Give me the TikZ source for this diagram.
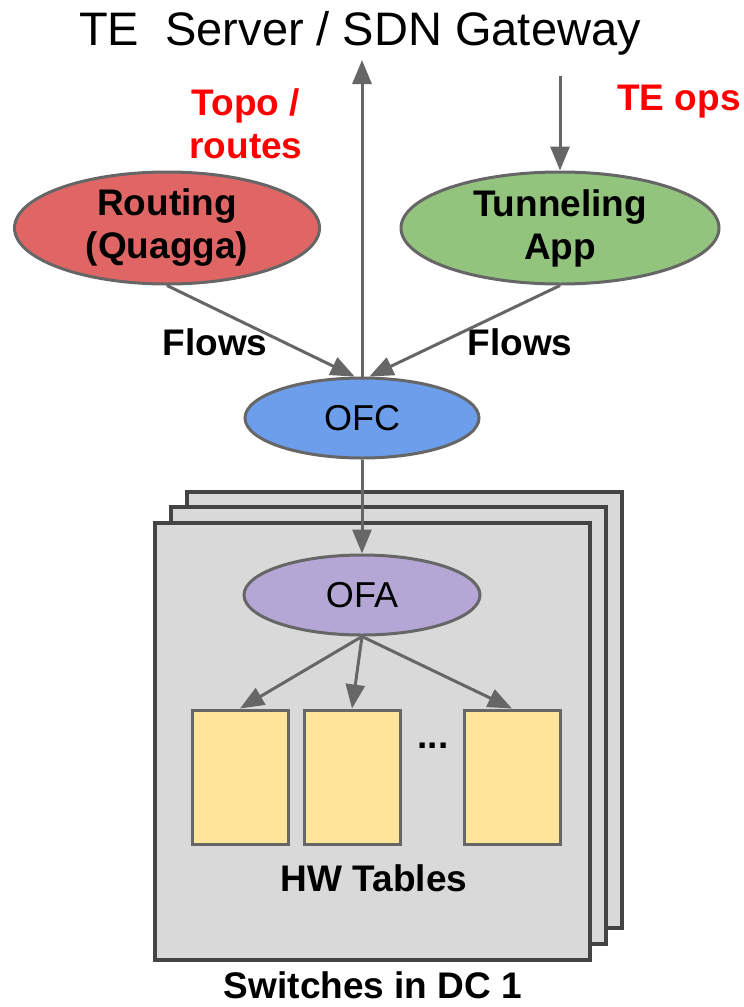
\documentclass[tikz,border=0pt]{standalone}
\usepackage{fontspec}
\setmainfont{Liberation Sans}
\usetikzlibrary{shapes.geometric,arrows.meta}

\definecolor{edgegray}{HTML}{666666}
\definecolor{boxgray}{HTML}{444444}
\definecolor{boxfill}{HTML}{D9D9D9}
\definecolor{routefill}{HTML}{E06666}
\definecolor{tunnelfill}{HTML}{93C47D}
\definecolor{ofcfill}{HTML}{6D9EEB}
\definecolor{ofafill}{HTML}{B4A7D6}
\definecolor{tablefill}{HTML}{FFE599}
\definecolor{labelred}{HTML}{FF0000}

\tikzset{
  bigtext/.style={font=\fontsize{37}{43}\selectfont\bfseries},
  regtext/.style={font=\fontsize{36}{40}\selectfont},
  redlabel/.style={bigtext, text=labelred, align=center},
  oval/.style={ellipse, draw=edgegray, line width=3pt, inner sep=0pt, align=center},
  switchbox/.style={draw=boxgray, fill=boxfill, line width=3.5pt},
  hwtable/.style={rectangle, draw=edgegray, fill=tablefill, line width=3pt,
    minimum width=96pt, minimum height=134pt, inner sep=0pt},
  link/.style={draw=edgegray, line width=3pt,
    -{Triangle[length=24pt,width=19pt]}},
}

\begin{document}
\begin{tikzpicture}[x=1pt,y=-1pt]
\useasboundingbox (0,0) rectangle (744,1007);

% stacked switch boxes, back to front
\draw[switchbox] (187,492) rectangle (622,928);
\draw[switchbox] (171,507) rectangle (606,944);
\draw[switchbox] (155,523) rectangle (590,960);

% title
\node[font=\fontsize{47}{50}\selectfont, anchor=base] (title) at (360,45)
  {TE\ \ Server / SDN Gateway};

% applications
\node[oval, fill=routefill, minimum width=305pt, minimum height=112pt, bigtext]
  (routing) at (167,228) {Routing\\(Quagga)};
\node[oval, fill=tunnelfill, minimum width=318pt, minimum height=112pt, bigtext]
  (tunnel) at (560,228) {Tunneling\\App};

% controller and agent
\node[oval, fill=ofcfill, minimum width=234pt, minimum height=80pt, regtext]
  (ofc) at (362,418) {OFC};
\node[oval, fill=ofafill, minimum width=236pt, minimum height=80pt, regtext]
  (ofa) at (362,595) {OFA};

% hardware tables
\node[hwtable] (t1) at (240,777) {};
\node[hwtable] (t2) at (352,777) {};
\node[hwtable] (t3) at (512,777) {};
\node[bigtext] (dots) at (433,746) {...};

% labels
\node[redlabel] (topo) at (246,124) {Topo /\\routes};
\node[redlabel] (teops) at (679,102) {TE ops};
\node[bigtext] (flowsl) at (215,342) {Flows};
\node[bigtext] (flowsr) at (520,342) {Flows};
\node[bigtext] (hw) at (374,878) {HW Tables};
\node[bigtext] (sw) at (373,985) {Switches in DC 1};

% free ends of the gateway links
\coordinate (upend) at (362,60);
\coordinate (downstart) at (560,76);

% connectors
\draw[link] (ofc.north) -- (upend);
\draw[link] (downstart) -- (tunnel.north);
\draw[link] (routing.south) -- (ofc.100);
\draw[link] (tunnel.south) -- (ofc.80);
\draw[link] (ofc.south) -- (ofa.north);
\draw[link] (ofa.south) -- (t1.north);
\draw[link] (ofa.south) -- (t2.north);
\draw[link] (ofa.south) -- (t3.north);
\end{tikzpicture}
\end{document}
